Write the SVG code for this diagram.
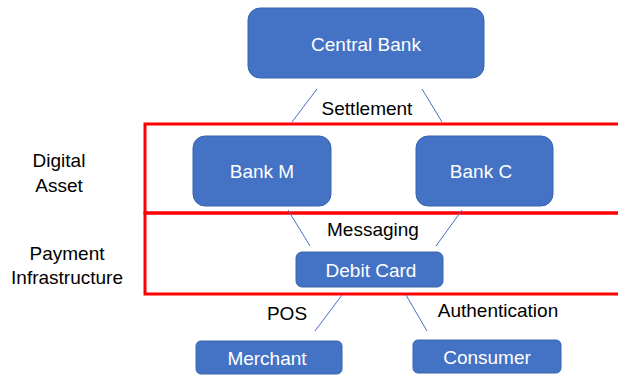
<svg xmlns="http://www.w3.org/2000/svg" width="618" height="375" viewBox="0 0 618 375">
<style>
.node{fill:#4472C4;stroke:#3A64AE;stroke-width:1}
.nt{fill:#fff;font-family:"Liberation Sans",Arial,sans-serif;font-size:19px;text-anchor:middle;dominant-baseline:central}
.lt{fill:#000;font-family:"Liberation Sans",Arial,sans-serif;font-size:19px;text-anchor:middle;dominant-baseline:central}
.band{fill:none;stroke:#FF0000;stroke-width:3}
.conn line{stroke:#4472C4;stroke-width:1}
</style>
<rect width="618" height="375" fill="#fff"/>
<g id="bands">
<rect class="band" x="145" y="124" width="480" height="89"/>
<rect class="band" x="145" y="213" width="480" height="81"/>
</g>
<g id="connectors" class="conn">
<line x1="317" y1="89" x2="292" y2="122"/>
<line x1="422" y1="89" x2="442" y2="122"/>
<line x1="288" y1="210" x2="310" y2="246"/>
<line x1="462" y1="210" x2="436" y2="246"/>
<line x1="342" y1="295" x2="315" y2="331"/>
<line x1="406" y1="295" x2="427" y2="331"/>
</g>
<g id="central-bank"><rect class="node" x="248" y="8" width="236" height="70" rx="12"/><text class="nt" x="366" y="44">Central Bank</text></g>
<g id="bank-m"><rect class="node" x="193" y="136" width="138" height="70" rx="12"/><text class="nt" x="262" y="171">Bank M</text></g>
<g id="bank-c"><rect class="node" x="416" y="136" width="137" height="70" rx="12"/><text class="nt" x="481" y="171">Bank C</text></g>
<g id="debit-card"><rect class="node" x="296" y="252" width="147" height="35" rx="6"/><text class="nt" x="371" y="270">Debit Card</text></g>
<g id="merchant"><rect class="node" x="196" y="341" width="146" height="33" rx="5"/><text class="nt" x="267" y="358">Merchant</text></g>
<g id="consumer"><rect class="node" x="413" y="340" width="148" height="33" rx="5"/><text class="nt" x="487" y="357">Consumer</text></g>
<g id="labels">
<text class="lt" x="367" y="108">Settlement</text>
<text class="lt" x="373" y="229">Messaging</text>
<text class="lt" x="287" y="313">POS</text>
<text class="lt" x="498" y="310">Authentication</text>
<text class="lt" x="59" y="160">Digital</text>
<text class="lt" x="59" y="185">Asset</text>
<text class="lt" x="67" y="253">Payment</text>
<text class="lt" x="67" y="277">Infrastructure</text>
</g>
</svg>
